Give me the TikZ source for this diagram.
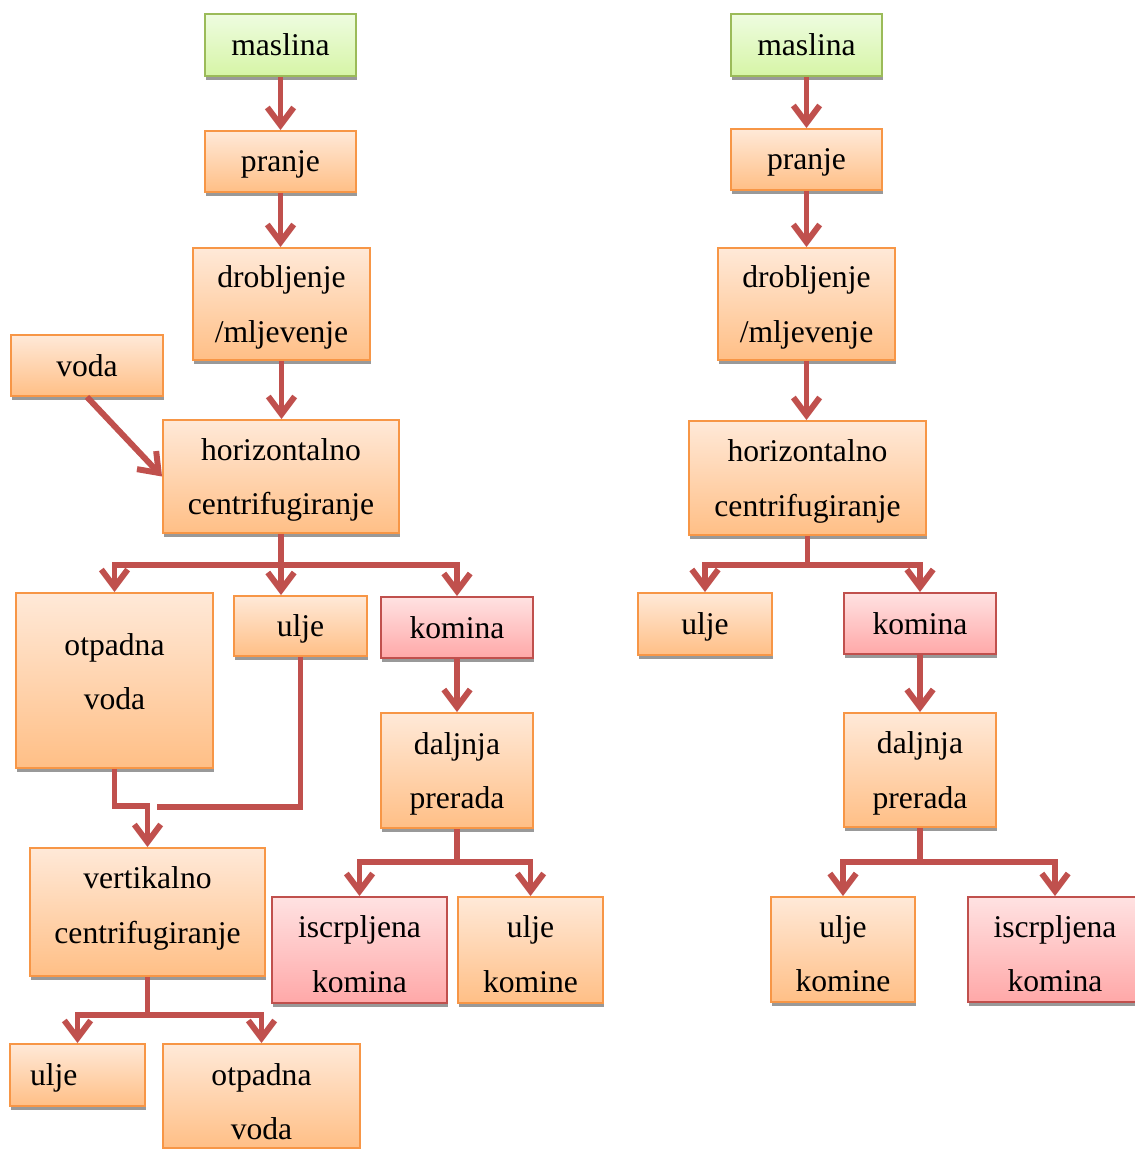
\documentclass[tikz,border=0pt]{standalone}
\usepackage{fontspec}
\setmainfont{Liberation Serif}
\usetikzlibrary{arrows.meta,shadows}
\definecolor{flowred}{HTML}{C0504D}
\definecolor{orangeline}{HTML}{F79646}
\definecolor{orangetop}{HTML}{FFE9D8}
\definecolor{orangebot}{HTML}{FFBF86}
\definecolor{greenline}{HTML}{9BBB59}
\definecolor{greentop}{HTML}{EEFCE0}
\definecolor{greenbot}{HTML}{D6F5A6}
\definecolor{pinkline}{HTML}{C0504D}
\definecolor{pinktop}{HTML}{FFE2E2}
\definecolor{pinkbot}{HTML}{FFA8A8}
\newcommand{\lowline}[1]{\rule{0pt}{#1}}
\tikzset{
  box/.style={line width=1.1pt, inner sep=0pt, align=center, text depth=0pt,
    font=\fontsize{18}{31}\selectfont,
    drop shadow={shadow xshift=0.8pt, shadow yshift=-2.2pt, fill=black!40, opacity=1}},
  orangebox/.style={box, draw=orangeline, top color=orangetop, bottom color=orangebot},
  greenbox/.style={box, draw=greenline, top color=greentop, bottom color=greenbot},
  pinkbox/.style={box, draw=pinkline, top color=pinktop, bottom color=pinkbot},
  flowline/.style={draw=flowred, line width=3.4pt,
    preaction={draw=black!35, transform canvas={shift={(0.6pt,-1.2pt)}}}},
  flow/.style={flowline, -{Straight Barb[length=10pt,width=15pt]}}
}
\begin{document}
\begin{tikzpicture}[x=0.02cm, y=-0.02cm]
\useasboundingbox (0,0) rectangle (1135,1149);
\node[greenbox, minimum width=3.02cm, minimum height=1.24cm] (m1) at (280.5,45) {maslina};
\node[orangebox, minimum width=3.02cm, minimum height=1.22cm] (p1) at (280.5,161.5) {pranje};
\node[orangebox, minimum width=3.54cm, minimum height=2.24cm] (d1) at (281.5,304) {drobljenje\\/mljevenje};
\node[orangebox, minimum width=3.04cm, minimum height=1.22cm] (v1) at (87,365.5) {voda};
\node[orangebox, minimum width=4.72cm, minimum height=2.26cm] (h1) at (281,476.5) {horizontalno\\centrifugiranje};
\node[orangebox, minimum width=3.94cm, minimum height=3.5cm, text depth=10pt] (o1) at (114.5,680.5) {otpadna\\voda};
\node[orangebox, minimum width=2.66cm, minimum height=1.2cm] (u1) at (300.5,626) {ulje};
\node[pinkbox, minimum width=3.04cm, minimum height=1.22cm] (k1) at (457,627.5) {komina};
\node[orangebox, minimum width=3.04cm, minimum height=2.3cm] (dp1) at (457,770.5) {daljnja\\prerada};
\node[orangebox, minimum width=4.7cm, minimum height=2.56cm, text depth=8pt] (vc1) at (147.5,912) {vertikalno\\centrifugiranje};
\node[pinkbox, minimum width=3.5cm, minimum height=2.12cm] (ik1) at (359.5,950) {\lowline{17pt}iscrpljena\\komina};
\node[orangebox, minimum width=2.9cm, minimum height=2.12cm] (uk1) at (530.5,950) {\lowline{17pt}ulje\\komine};
\node[orangebox, minimum width=2.7cm, minimum height=1.24cm, text width=1.9cm, inner xsep=0.4cm, align=left] (u2) at (77.5,1075) {ulje};
\node[orangebox, minimum width=3.94cm, minimum height=2.08cm] (ov2) at (261.5,1096) {\lowline{19pt}otpadna\\voda};
\node[greenbox, minimum width=3.02cm, minimum height=1.24cm] (m2) at (806.5,45) {maslina};
\node[orangebox, minimum width=3.02cm, minimum height=1.22cm] (p2) at (806.5,159.5) {pranje};
\node[orangebox, minimum width=3.54cm, minimum height=2.24cm] (d2) at (806.5,304) {drobljenje\\/mljevenje};
\node[orangebox, minimum width=4.74cm, minimum height=2.28cm] (h2) at (807.5,478) {horizontalno\\centrifugiranje};
\node[orangebox, minimum width=2.68cm, minimum height=1.24cm] (u3) at (705,624) {ulje};
\node[pinkbox, minimum width=3.04cm, minimum height=1.22cm] (k2) at (920,623.5) {komina};
\node[orangebox, minimum width=3.04cm, minimum height=2.28cm] (dp2) at (920,770) {daljnja\\prerada};
\node[orangebox, minimum width=2.88cm, minimum height=2.1cm] (uk2) at (843,949.5) {\lowline{17pt}ulje\\komine};
\node[pinkbox, minimum width=3.48cm, minimum height=2.1cm] (ik2) at (1055,949.5) {\lowline{17pt}iscrpljena\\komina};
\coordinate (hb1) at (281,565);
\coordinate (ue1) at (157,807);
\coordinate (db1) at (457,862);
\coordinate (vb1) at (147.5,1015);
\coordinate (hb2) at (807.5,565);
\coordinate (db2) at (920,862);
\draw[flow] (m1.south) -- (p1.north);
\draw[flow] (p1.south) -- (p1.south |- d1.north);
\draw[flow] (d1.south) -- (d1.south |- h1.north);
\draw[flow] (v1.south) -- (h1.west);
\draw[flowline] (h1.south) -- (hb1);
\draw[flow] (hb1) -| (o1.north);
\draw[flow] (hb1) -- (hb1 |- u1.north);
\draw[flow] (hb1) -| (k1.north);
\draw[flowline] (u1.south) |- (ue1);
\draw[flow] (o1.south) -- ++(0,37) -| (vc1.north);
\draw[flow] (k1.south) -- (dp1.north);
\draw[flowline] (dp1.south) -- (db1);
\draw[flow] (db1) -| (ik1.north);
\draw[flow] (db1) -| (uk1.north);
\draw[flowline] (vc1.south) -- (vb1);
\draw[flow] (vb1) -| (u2.north);
\draw[flow] (vb1) -| (ov2.north);
\draw[flow] (m2.south) -- (p2.north);
\draw[flow] (p2.south) -- (d2.north);
\draw[flow] (d2.south) -- (d2.south |- h2.north);
\draw[flowline] (h2.south) -- (hb2);
\draw[flow] (hb2) -| (u3.north);
\draw[flow] (hb2) -| (k2.north);
\draw[flow] (k2.south) -- (dp2.north);
\draw[flowline] (dp2.south) -- (db2);
\draw[flow] (db2) -| (uk2.north);
\draw[flow] (db2) -| (ik2.north);
\end{tikzpicture}
\end{document}
